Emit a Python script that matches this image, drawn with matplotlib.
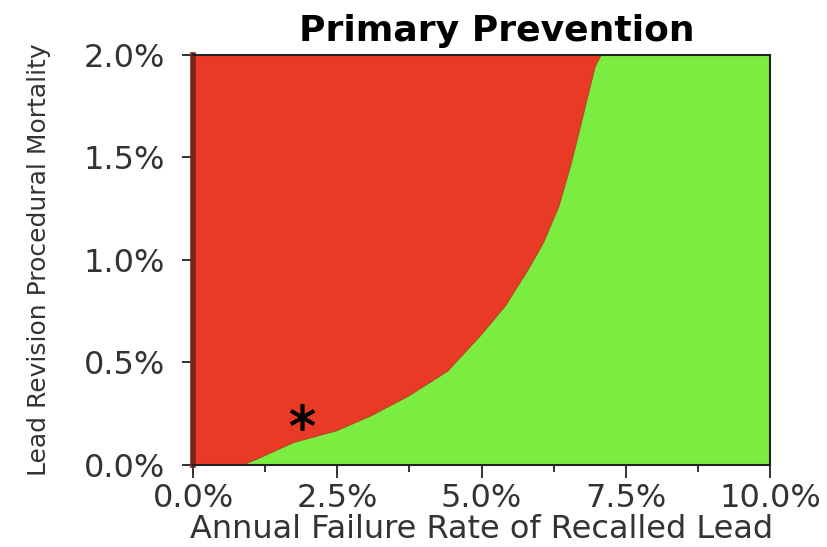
import numpy as np
import matplotlib.pyplot as plt
from matplotlib.ticker import FuncFormatter, MultipleLocator

plt.rcParams['font.family'] = ['DejaVu Sans']

# threshold curve: mortality (%) vs failure rate (%) where the two strategies break even
mortality = [0.0, 0.026, 0.11, 0.167, 0.24, 0.338, 0.458, 0.638, 0.776, 0.955,
             1.084, 1.263, 1.458, 1.636, 1.8, 1.945, 2.0]
failure = [0.85, 1.08, 1.74, 2.48, 3.08, 3.74, 4.41, 5.0, 5.41, 5.81,
           6.07, 6.34, 6.54, 6.70, 6.84, 6.97, 7.07]

# base case marker
base_x = [1.89]
base_y = [0.232]

red = '#E93A26'
green = '#7BEC40'

fig = plt.figure(figsize=(8.27, 5.47), dpi=100)
ax = fig.add_axes([0.2334, 0.150, 0.6977, 0.7495])
ax.set_facecolor(green)

ax.fill_betweenx(mortality, 0, failure, color=red, lw=0)
ax.plot(failure, mortality, color='#8a5a2a', lw=0.8, alpha=0.6)
ax.plot(base_x, base_y, marker=(6, 2, 0), color='black', ms=19, mew=2.6, ls='none')

ax.set_xlim(0, 10)
ax.set_ylim(0, 2)

ax.xaxis.set_major_locator(MultipleLocator(2.5))
ax.xaxis.set_minor_locator(MultipleLocator(1.25))
ax.yaxis.set_major_locator(MultipleLocator(0.5))
pct = FuncFormatter(lambda v, _: f'{v:.1f}%')
ax.xaxis.set_major_formatter(pct)
ax.yaxis.set_major_formatter(pct)

ax.tick_params(axis='both', which='major', width=1.3, color='#222222',
               labelsize=23, labelcolor='#333333')
ax.tick_params(axis='x', which='major', length=9, pad=4)
ax.tick_params(axis='x', which='minor', length=5, width=1.3, color='#222222')
ax.tick_params(axis='y', which='major', length=8, pad=12)

for side in ['top', 'right', 'bottom']:
    ax.spines[side].set_color('#222222')
    ax.spines[side].set_linewidth(1.5)
ax.spines['left'].set_color('#7a2418')
ax.spines['left'].set_linewidth(4)

ax.set_title('Primary Prevention', fontsize=26, fontweight='bold', x=0.527, pad=10)
ax.set_xlabel('Annual Failure Rate of Recalled Lead', fontsize=23, color='#333333', labelpad=0)
ax.set_ylabel('Lead Revision Procedural Mortality', fontsize=18, color='#333333', labelpad=24)

fig.savefig('out.png', dpi=100)
